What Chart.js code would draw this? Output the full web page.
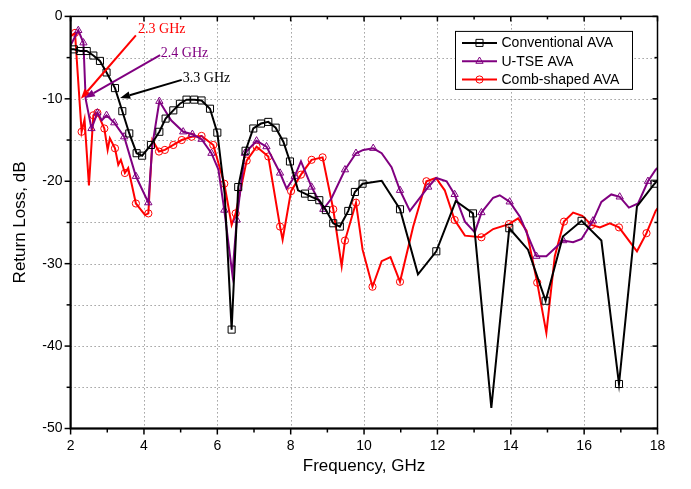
<!DOCTYPE html>
<html><head><meta charset="utf-8">
<script src="https://cdn.jsdelivr.net/npm/chart.js@4/dist/chart.umd.min.js"></script>
<style>html,body{margin:0;padding:0;background:#fff}#wrap{width:691px;height:489px}</style>
</head><body><div id="wrap"><canvas id="c" width="691" height="489"></canvas></div>
<script>
// ---- data ----
const seriesNames = ['Conventional AVA', 'U-TSE AVA', 'Comb-shaped AVA'];

const convFreq = [2.0,2.09,2.26,2.44,2.62,2.80,2.98,3.21,3.41,3.60,3.80,3.95,4.19,4.42,4.59,4.80,4.98,5.16,5.37,5.57,5.80,6.00,6.20,6.39,6.57,6.77,6.98,7.19,7.39,7.59,7.80,7.98,8.20,8.39,8.57,8.78,8.96,9.16,9.34,9.57,9.75,9.96,10.48,10.98,11.47,11.97,12.50,12.97,13.47,13.96,14.47,14.95,15.42,15.93,16.47,16.95,17.44,17.92,18.0];
const convLoss = [-4.0,-4.0,-4.2,-4.2,-4.75,-5.4,-6.8,-8.7,-11.5,-14.2,-16.6,-16.9,-15.6,-14.0,-12.4,-11.4,-10.6,-10.1,-10.1,-10.2,-11.2,-14.1,-21.5,-38.0,-20.7,-16.3,-13.6,-13.0,-12.8,-13.5,-15.2,-17.6,-21.1,-21.5,-21.9,-22.3,-23.5,-25.1,-25.5,-23.6,-21.3,-20.3,-19.95,-23.4,-31.3,-28.5,-22.4,-23.9,-47.5,-25.7,-28.3,-34.5,-26.7,-24.8,-27.2,-44.6,-23.05,-20.3,-19.9];
const convMark = [0,1,1,1,1,1,1,1,1,1,1,1,1,1,1,1,1,1,1,1,1,1,0,1,1,1,1,1,1,1,1,1,0,1,1,1,1,1,1,1,1,1,0,1,0,1,0,1,0,1,0,1,0,1,0,1,0,1,0];

const utseFreq = [2.0,2.21,2.35,2.41,2.57,2.73,2.85,2.98,3.19,3.46,3.78,4.12,4.23,4.42,4.74,5.07,5.32,5.57,5.84,6.03,6.19,6.41,6.53,6.75,7.07,7.34,7.71,7.89,8.11,8.28,8.57,8.89,9.11,9.48,9.78,9.98,10.25,10.48,10.75,10.98,11.25,11.75,11.97,12.25,12.47,12.75,13.02,13.20,13.52,13.70,13.97,14.25,14.70,14.97,15.43,15.70,15.93,16.24,16.47,16.74,16.97,17.22,17.47,17.74,17.95,18.0];
const utseLoss = [-3.5,-1.7,-3.2,-10.0,-13.6,-11.7,-12.6,-12.0,-12.9,-14.6,-19.4,-22.6,-15.6,-10.3,-12.6,-14.0,-14.3,-14.9,-16.6,-18.6,-23.5,-31.3,-24.7,-16.6,-15.1,-15.8,-19.0,-20.9,-19.4,-17.6,-20.7,-23.4,-22.1,-18.6,-16.6,-16.2,-16.0,-16.6,-18.3,-21.1,-23.6,-20.7,-19.6,-20.0,-21.6,-24.9,-26.2,-23.8,-22.0,-21.7,-22.5,-24.3,-29.1,-29.1,-27.2,-27.4,-27.0,-24.8,-22.5,-21.6,-21.9,-23.2,-22.7,-20.0,-18.6,-18.4];
const utseMark = [0,1,1,0,1,1,0,1,1,1,1,1,0,1,0,1,1,1,1,0,1,0,1,1,1,1,1,0,1,0,1,1,0,1,1,0,1,0,0,1,0,1,0,0,1,0,0,1,0,0,1,0,1,0,1,0,0,1,0,0,1,0,0,1,0,0];

const combFreq = [2.0,2.12,2.30,2.38,2.50,2.62,2.73,2.92,3.01,3.07,3.21,3.30,3.37,3.48,3.57,3.78,4.03,4.12,4.23,4.41,4.57,4.80,5.03,5.30,5.57,5.89,6.19,6.39,6.50,6.80,7.07,7.39,7.71,7.78,8.01,8.28,8.57,8.87,9.16,9.39,9.48,9.78,9.96,10.23,10.48,10.72,10.98,11.34,11.70,11.96,12.20,12.47,12.75,13.20,13.52,13.95,14.20,14.43,14.72,14.97,15.20,15.45,15.70,15.95,16.20,16.43,16.70,16.95,17.44,17.70,17.95,18.0];
const combLoss = [-2.4,-2.0,-14.0,-12.5,-20.5,-12.0,-11.7,-13.6,-16.2,-14.8,-16.0,-18.0,-17.4,-19.0,-18.4,-22.7,-24.1,-23.9,-15.0,-16.4,-16.2,-15.6,-15.0,-14.6,-14.5,-15.6,-20.3,-25.3,-23.9,-17.5,-15.8,-17.0,-25.5,-27.1,-21.2,-19.2,-17.4,-17.1,-23.4,-30.3,-27.2,-22.6,-28.3,-32.8,-29.7,-29.2,-32.2,-25.5,-20.0,-19.6,-21.1,-24.7,-26.6,-26.8,-25.8,-25.2,-24.5,-26.0,-32.3,-38.4,-29.1,-24.9,-23.8,-24.2,-25.3,-25.6,-25.1,-25.6,-28.5,-26.3,-23.6,-23.3];
const combMark = [0,1,1,0,0,1,1,1,0,0,1,0,0,1,0,1,0,1,0,1,1,1,1,1,1,1,1,0,1,1,1,1,1,0,1,1,1,1,1,0,1,1,0,1,0,0,1,0,1,0,0,1,0,1,0,1,0,0,1,0,0,1,0,0,1,0,0,1,0,1,0,0];

const xTickLabels = [2,4,6,8,10,12,14,16,18];
const xMinorTicks = [3,5,7,9,11,13,15,17];
const yTickLabels = [0,-10,-20,-30,-40,-50];
const yMinorTicks = [-5,-15,-25,-35,-45];

// annotation callouts: text, text anchor (GHz, dB), arrow start, arrow tip
const calloutText  = ['2.3 GHz', '2.4 GHz', '3.3 GHz'];
const calloutTextF = [3.84, 4.46, 5.06];
const calloutTextD = [-1.6, -4.5, -7.5];
const calloutFromF = [3.78, 4.44, 5.03];
const calloutFromD = [-2.3, -4.7, -7.7];
const calloutTipF  = [2.28, 2.39, 3.35];
const calloutTipD  = [-10.0, -9.9, -9.9];
const calloutColors = ['#ff0000', '#800080', '#000000'];

const colors = ['#000000', '#800080', '#ff0000'];
const styles = ['rect', 'triangle', 'circle'];
const radii = [5, 4.2, 3.6];

function pts(f, v) { return f.map((x, i) => ({x, y: v[i]})); }
function mk(name, f, v, m, k) {
  return {
    label: name, data: pts(f, v),
    borderColor: colors[k], borderWidth: 2, tension: 0,
    pointStyle: styles[k], pointBorderColor: colors[k], pointBackgroundColor: 'rgba(0,0,0,0)',
    pointBorderWidth: 1, pointRadius: ctx => m[ctx.dataIndex] ? radii[k] : 0, pointHoverRadius: 0
  };
}

const FONT = 'Liberation Sans, Arial, sans-serif';

function drawMarker(ctx, style, x, y, r, color) {
  ctx.save(); ctx.strokeStyle = color; ctx.lineWidth = 1; ctx.setLineDash([]);
  ctx.beginPath();
  if (style === 'rect') { const s = r * Math.SQRT1_2; ctx.rect(x - s, y - s, 2 * s, 2 * s); }
  else if (style === 'triangle') {
    ctx.moveTo(x, y - r); ctx.lineTo(x + r * 0.866, y + r * 0.5); ctx.lineTo(x - r * 0.866, y + r * 0.5); ctx.closePath();
  } else { ctx.arc(x, y, r, 0, Math.PI * 2); }
  ctx.stroke(); ctx.restore();
}

const framePlugin = {
  id: 'frame',
  beforeDatasetsDraw(chart) {
    const {ctx, chartArea: a, scales: {x, y}} = chart;
    ctx.save();
    ctx.strokeStyle = '#707070'; ctx.lineWidth = 1; ctx.setLineDash([1, 3]);
    xTickLabels.forEach(v => {
      if (v === 2 || v === 18) return;
      const px = Math.round(x.getPixelForValue(v)) + 0.5;
      ctx.beginPath(); ctx.moveTo(px, a.top); ctx.lineTo(px, a.bottom); ctx.stroke();
    });
    yTickLabels.concat(yMinorTicks).forEach(v => {
      if (v === 0 || v === -50) return;
      const py = Math.round(y.getPixelForValue(v)) + 0.5;
      ctx.beginPath(); ctx.moveTo(a.left, py); ctx.lineTo(a.right, py); ctx.stroke();
    });
    ctx.restore();
  },
  afterDatasetsDraw(chart) {
    const {ctx, chartArea: a, scales: {x, y}} = chart;
    ctx.save();
    ctx.setLineDash([]); ctx.strokeStyle = '#000';
    ctx.lineWidth = 1.5;
    ctx.strokeRect(a.left, a.top, a.right - a.left, a.bottom - a.top);
    ctx.lineWidth = 2;
    ctx.beginPath(); ctx.moveTo(a.left, a.top); ctx.lineTo(a.left, a.bottom); ctx.lineTo(a.right, a.bottom); ctx.stroke();
    ctx.lineWidth = 1.5;
    const tick = (x1, y1, x2, y2) => { ctx.beginPath(); ctx.moveTo(x1, y1); ctx.lineTo(x2, y2); ctx.stroke(); };
    xTickLabels.forEach(v => { const px = x.getPixelForValue(v); tick(px, a.bottom, px, a.bottom + 6); tick(px, a.top, px, a.top + 5); });
    xMinorTicks.forEach(v => { const px = x.getPixelForValue(v); tick(px, a.bottom, px, a.bottom + 4); tick(px, a.top, px, a.top + 3); });
    yTickLabels.forEach(v => { const py = y.getPixelForValue(v); tick(a.left - 6, py, a.left, py); tick(a.right - 5, py, a.right, py); });
    yMinorTicks.forEach(v => { const py = y.getPixelForValue(v); tick(a.left - 4, py, a.left, py); tick(a.right - 3, py, a.right, py); });
    ctx.restore();
  },
  afterDraw(chart) {
    const {ctx, chartArea: a, scales: {x, y}} = chart;
    ctx.save();
    // callouts
    calloutText.forEach((t, i) => {
      const c = calloutColors[i];
      const x0 = x.getPixelForValue(calloutFromF[i]), y0 = y.getPixelForValue(calloutFromD[i]);
      const x1 = x.getPixelForValue(calloutTipF[i]), y1 = y.getPixelForValue(calloutTipD[i]);
      const ang = Math.atan2(y1 - y0, x1 - x0);
      const L = 10, W = 3.8;
      const bx = x1 - L * Math.cos(ang), by = y1 - L * Math.sin(ang);
      ctx.strokeStyle = c; ctx.fillStyle = c; ctx.lineWidth = 2;
      ctx.beginPath(); ctx.moveTo(x0, y0); ctx.lineTo(bx, by); ctx.stroke();
      ctx.beginPath();
      ctx.moveTo(x1, y1);
      ctx.lineTo(bx + W * Math.sin(ang), by - W * Math.cos(ang));
      ctx.lineTo(bx - W * Math.sin(ang), by + W * Math.cos(ang));
      ctx.closePath(); ctx.fill();
      ctx.font = '14px "Liberation Serif", "Times New Roman", serif';
      ctx.textBaseline = 'middle'; ctx.textAlign = 'left';
      ctx.fillText(t, x.getPixelForValue(calloutTextF[i]), y.getPixelForValue(calloutTextD[i]));
    });
    // legend
    const L = a.right - 202.5, T = a.top + 14.5, W = 177, H = 58;
    ctx.fillStyle = '#fff'; ctx.fillRect(L, T, W, H);
    ctx.strokeStyle = '#000'; ctx.lineWidth = 1; ctx.setLineDash([]);
    ctx.strokeRect(L + 0.5, T + 0.5, W, H);
    seriesNames.forEach((n, i) => {
      const ry = T + 12 + i * 18.3;
      ctx.strokeStyle = colors[i]; ctx.lineWidth = 2;
      ctx.beginPath(); ctx.moveTo(L + 7, ry); ctx.lineTo(L + 42, ry); ctx.stroke();
      drawMarker(ctx, styles[i], L + 24.5, ry, radii[i], colors[i]);
      ctx.fillStyle = '#000'; ctx.font = '14px ' + FONT; ctx.textBaseline = 'middle'; ctx.textAlign = 'left';
      ctx.fillText(n, L + 46.5, ry + 0.5);
    });
    ctx.restore();
  }
};

new Chart(document.getElementById('c'), {
  type: 'line',
  data: { datasets: [
    mk(seriesNames[0], convFreq, convLoss, convMark, 0),
    mk(seriesNames[1], utseFreq, utseLoss, utseMark, 1),
    mk(seriesNames[2], combFreq, combLoss, combMark, 2)
  ]},
  options: {
    responsive: false, animation: false, devicePixelRatio: 1,
    layout: { padding: { top: 9.5, right: 33.5, left: 0, bottom: 0 } },
    plugins: { legend: { display: false }, tooltip: { enabled: false } },
    scales: {
      x: {
        type: 'linear', min: 2, max: 18,
        afterBuildTicks: s => { s.ticks = xTickLabels.map(v => ({value: v})); },
        afterFit: s => { s.height = 60.5; },
        ticks: { autoSkip: false, maxRotation: 0, padding: 9, color: '#000', font: { family: FONT, size: 14 }, callback: v => String(v) },
        grid: { display: false, drawTicks: false },
        border: { display: false },
        title: { display: true, text: 'Frequency, GHz', color: '#000', font: { family: FONT, size: 17 }, padding: { top: 0, bottom: 12 } }
      },
      y: {
        type: 'linear', min: -50, max: 0,
        afterBuildTicks: s => { s.ticks = yTickLabels.map(v => ({value: v})); },
        afterFit: s => { s.width = 70.6; },
        ticks: { autoSkip: false, padding: 8, color: '#000', font: { family: FONT, size: 14 }, callback: v => String(v) },
        grid: { display: false, drawTicks: false },
        border: { display: false },
        title: { display: true, text: 'Return Loss, dB', color: '#000', font: { family: FONT, size: 17 }, padding: { top: 10, bottom: 0 } }
      }
    }
  },
  plugins: [framePlugin]
});
</script>
</body></html>
